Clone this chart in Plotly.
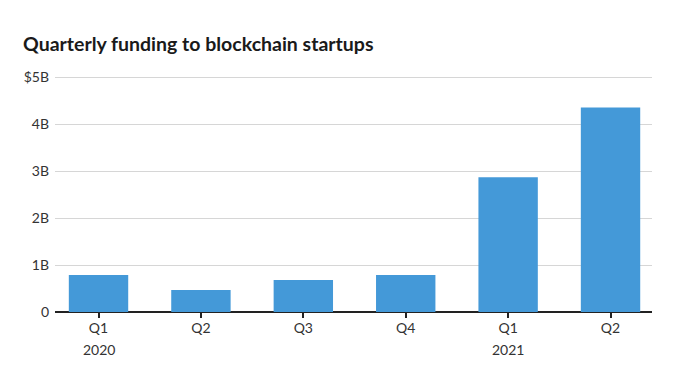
import plotly.graph_objects as go

quarters = ["Q1", "Q2", "Q3", "Q4", "Q1 ", "Q2 "]
quarter_labels = ["Q1", "Q2", "Q3", "Q4", "Q1", "Q2"]
years = {"Q1": "2020", "Q1 ": "2021"}
funding_b = [0.79, 0.47, 0.68, 0.79, 2.87, 4.36]
y_ticks = [0, 1, 2, 3, 4, 5]
y_tick_text = ["0", "1B", "2B", "3B", "4B", "$5B"]

fig = go.Figure(go.Bar(x=quarters, y=funding_b, marker_color="#4499d8",
                       marker_line_width=0, width=0.58, hoverinfo="skip"))

for q, yr in years.items():
    fig.add_annotation(x=q, xref="x", y=0, yref="paper", yshift=-37,
                       yanchor="middle", text=yr, showarrow=False,
                       font=dict(family="Lato", size=14, color="#333333"))

fig.update_layout(
    width=679, height=371,
    margin=dict(l=55, r=27, t=76, b=59),
    plot_bgcolor="white", paper_bgcolor="white",
    title=dict(text="<b>Quarterly funding to blockchain startups</b>",
               x=23/679, xref="container", xanchor="left",
               y=1-44/371, yref="container", yanchor="middle",
               font=dict(family="Lato", size=19.5, color="#1a1a1a")),
    showlegend=False,
    xaxis=dict(type="category", range=[-0.425, 5.405],
               tickvals=quarters, ticktext=quarter_labels,
               ticks="outside", ticklen=5, tickcolor="#222222", tickwidth=1.5,
               showline=False, showgrid=False, ticklabelstandoff=-2,
               tickfont=dict(family="Lato", size=14, color="#333333")),
    yaxis=dict(range=[0, 5.03], tickvals=y_ticks, ticktext=y_tick_text,
               showgrid=True, gridcolor="#d6d6d6", gridwidth=1,
               zeroline=True, zerolinecolor="#222222", zerolinewidth=1.5,
               ticks="", ticklabelstandoff=5,
               tickfont=dict(family="Lato", size=14, color="#333333")),
)
fig.write_html("out.html", config={"displayModeBar": False})

with open("out.html", "r", encoding="utf-8") as f:
    html = f.read()
html = html.replace("<head>", "<head><style>html,body{margin:0;padding:0;}</style>", 1)
with open("out.html", "w", encoding="utf-8") as f:
    f.write(html)
